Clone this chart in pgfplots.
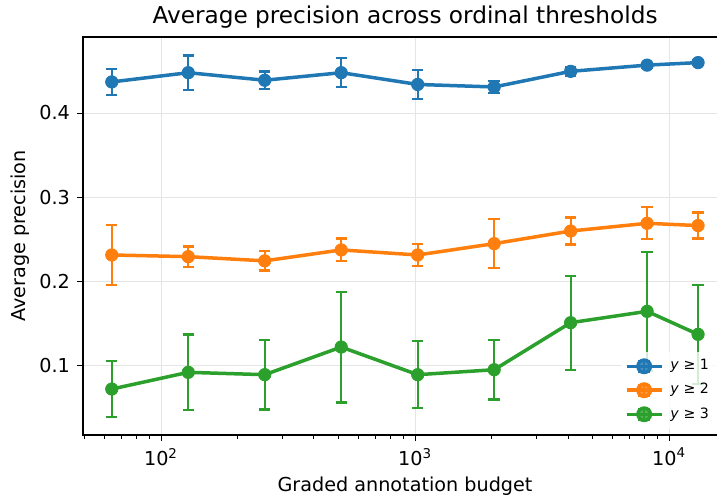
\documentclass[border=0pt]{standalone}
\usepackage{fontspec}
\setmainfont{DejaVu Sans}
\usepackage{pgfplots}
\pgfplotsset{compat=1.18}
\definecolor{tabblue}{HTML}{1F77B4}
\definecolor{taborange}{HTML}{FF7F0E}
\definecolor{tabgreen}{HTML}{2CA02C}
\pgfplotsset{errstyle/.style={line width=1.75pt, mark=none,
    error bars/y dir=both, error bars/y explicit,
    error bars/error bar style={line width=1.1pt},
    error bars/error mark options={line width=1.1pt, mark size=2.85pt, rotate=90}},
  markstyle/.style={only marks, mark=*, mark size=3.1pt, forget plot}}
\begin{document}
\begin{tikzpicture}
\pgfplotstableread{
x y e
64 0.437 0.0155
128 0.448 0.0205
256 0.439 0.0105
512 0.448 0.0175
1024 0.434 0.0175
2048 0.431 0.0073
4096 0.4496 0.005
8192 0.457 0.003
13000 0.460 0.003
}\tblA
\pgfplotstableread{
x y e
64 0.231 0.0355
128 0.229 0.012
256 0.224 0.0115
512 0.237 0.0135
1024 0.231 0.013
2048 0.2445 0.029
4096 0.2595 0.016
8192 0.2687 0.019
13000 0.266 0.0155
}\tblB
\pgfplotstableread{
x y e
64 0.0714 0.033
128 0.0913 0.045
256 0.0885 0.0415
512 0.1214 0.066
1024 0.0885 0.040
2048 0.0944 0.0355
4096 0.1504 0.056
8192 0.1639 0.071
13000 0.1365 0.059
}\tblC
\begin{axis}[
  at={(0,0)}, anchor=south west,
  scale only axis, width=322pt, height=199pt,
  xmode=log, xmin=49.3, xmax=16900,
  ymin=0.0167, ymax=0.4905,
  xtick={100,1000,10000},
  xticklabels={10\textsuperscript{2},10\textsuperscript{3},10\textsuperscript{4}},
  minor xtick={50,60,70,80,90,200,300,400,500,600,700,800,900,2000,3000,4000,5000,6000,7000,8000,9000},
  ytick={0.1,0.2,0.3,0.4},
  yticklabels={0.1,0.2,0.3,0.4},
  tick align=outside, tick pos=left,
  major tick length=3pt, minor tick length=1.8pt,
  every tick/.style={black, line width=0.5pt},
  grid=major, major grid style={black!10, line width=0.5pt},
  axis line style={line width=0.6pt},
  tick label style={font=\fontsize{9.6}{11}\selectfont},
  title={Average precision across ordinal thresholds},
  title style={font=\fontsize{11.6}{13}\selectfont, at={(rel axis cs:0.5,1)}, anchor=center, yshift=4pt},
  xlabel={Graded annotation budget},
  xlabel style={font=\fontsize{9.6}{11}\selectfont, at={(rel axis cs:0.5,0)}, anchor=center, yshift=-25.5pt},
  ylabel={Average precision},
  ylabel style={font=\fontsize{9.6}{11}\selectfont, at={(rel axis cs:-0.0978,0.5)}, anchor=center},
  legend style={at={(rel axis cs:0.985,0.014)}, anchor=south east, draw=none, fill=white, fill opacity=0.8, text opacity=1, font=\fontsize{7.1}{8.5}\selectfont, row sep=1.25pt, column sep=1.5pt, inner sep=2pt},
  legend cell align=left,
  legend image code/.code={
    \draw[#1, mark=none, line width=1.75pt] (0pt,0pt) -- (17.5pt,0pt);
    \draw[#1, mark=none, line width=1.1pt] (8.75pt,-2.8pt) -- (8.75pt,2.8pt) (5.9pt,-2.8pt) -- (11.6pt,-2.8pt) (5.9pt,2.8pt) -- (11.6pt,2.8pt);
    \fill[#1] (8.75pt,0pt) circle (3.1pt);
  },
]
\addplot[color=tabblue, errstyle] table[x=x, y=y, y error=e] {\tblA};
\addlegendentry{\textit{y} ≥ 1}
\addplot[color=taborange, errstyle] table[x=x, y=y, y error=e] {\tblB};
\addlegendentry{\textit{y} ≥ 2}
\addplot[color=tabgreen, errstyle] table[x=x, y=y, y error=e] {\tblC};
\addlegendentry{\textit{y} ≥ 3}
\addplot[color=tabblue, markstyle] table[x=x, y=y] {\tblA};
\addplot[color=taborange, markstyle] table[x=x, y=y] {\tblB};
\addplot[color=tabgreen, markstyle] table[x=x, y=y] {\tblC};
\end{axis}
\pgfresetboundingbox
\useasboundingbox (-41.5pt,-30.5pt) rectangle (317pt,217.5pt);
\end{tikzpicture}
\end{document}
